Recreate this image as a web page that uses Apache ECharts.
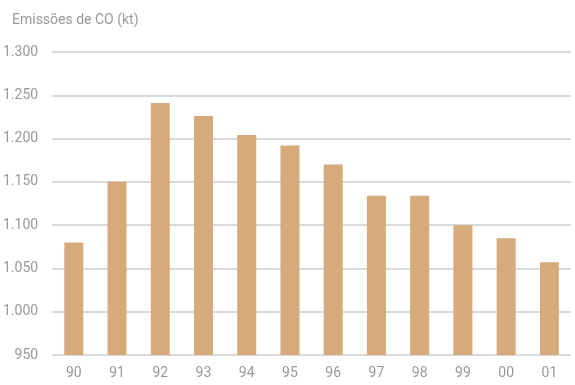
<!DOCTYPE html>
<html><head><meta charset="utf-8">
<script src="https://cdn.jsdelivr.net/npm/echarts@6/dist/echarts.min.js"></script>
<style>html,body{margin:0;padding:0;background:#fff}#c{width:575px;height:385px}</style>
</head><body><div id="c"></div>
<script>
const categories = ['90','91','92','93','94','95','96','97','98','99','00','01'];
const values = [1080, 1150, 1241, 1226, 1204, 1192, 1170, 1134, 1134, 1100, 1085, 1057];
const yTicks = [950, 1000, 1050, 1100, 1150, 1200, 1250, 1300];
const titleText = 'Emissões de CO (kt)';
const FONT = '"Liberation Sans Narrow", "Roboto", sans-serif';
const chart = echarts.init(document.getElementById('c'), null, {renderer:'canvas'});
chart.setOption({
  animation:false,
  title:{text:titleText,left:7,top:8,textStyle:{fontFamily:FONT,fontSize:14,fontWeight:'normal',color:'#999'}},
  grid:{left:52,right:4,top:52,bottom:30,containLabel:false},
  xAxis:{type:'category',data:categories,
    axisLine:{show:false},axisTick:{show:false},
    axisLabel:{fontFamily:FONT,fontSize:14,color:'#999',margin:11}},
  yAxis:{type:'value',min:yTicks[0],max:yTicks[yTicks.length-1],interval:50,
    axisLine:{show:false},axisTick:{show:false},
    splitLine:{lineStyle:{color:'#ccc',width:1.5}},
    axisLabel:{fontFamily:FONT,fontSize:14,color:'#999',margin:14,
      formatter:v=>v>=1000?Math.floor(v/1000)+'.'+String(v%1000).padStart(3,'0'):String(v)}},
  series:[{type:'bar',data:values,barWidth:19,itemStyle:{color:'#d7aa7c'}}]
});
</script></body></html>
